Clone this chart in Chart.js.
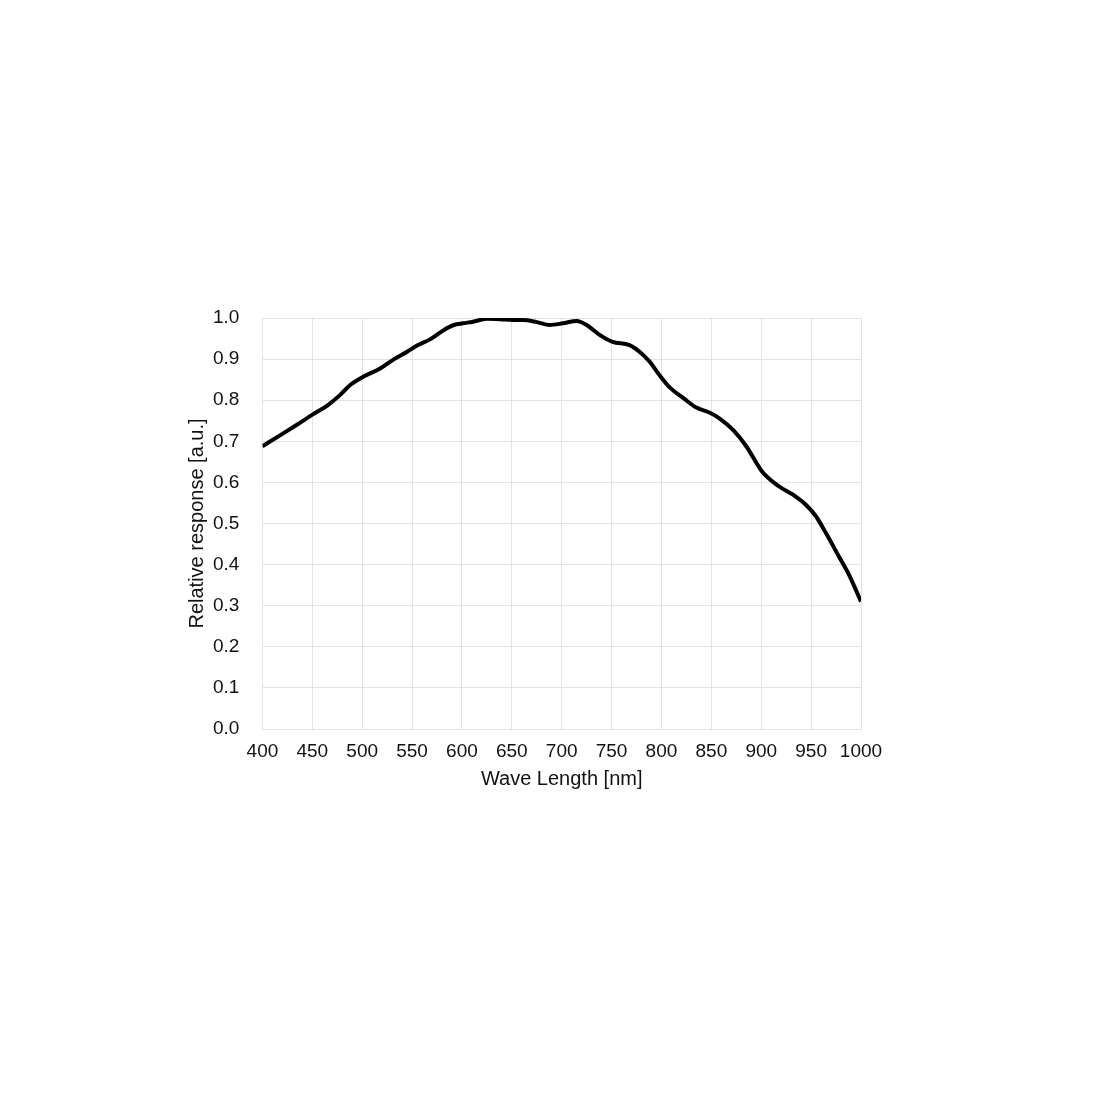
<!DOCTYPE html>
<html>
<head>
<meta charset="utf-8">
<script src="https://cdn.jsdelivr.net/npm/chart.js@4.4.0/dist/chart.umd.min.js"></script>
<style>
  html, body { margin: 0; padding: 0; background: #fff; }
  #wrap { position: relative; width: 1100px; height: 1100px; }
</style>
</head>
<body>
<div id="wrap"><canvas id="chart-resp"></canvas></div>
<script>
// ── DATA ─────────────────────────────────────
const wavelengths = [400, 418, 435, 451, 465, 478, 488, 501, 518, 532, 545, 555, 568, 582, 592, 601, 611,
  625, 638, 651, 661, 675, 688, 701, 715, 725, 738, 751, 768, 778, 788, 798, 808, 822, 835, 848,
  858, 872, 885, 901, 918, 935, 945, 955, 965, 978, 988, 1000];
const response = [0.688, 0.715, 0.741, 0.766, 0.787, 0.813, 0.837, 0.857, 0.877, 0.900, 0.918, 0.933,
  0.948, 0.971, 0.983, 0.987, 0.991, 0.998, 0.997, 0.995, 0.995, 0.990, 0.983, 0.987, 0.993, 0.983,
  0.959, 0.942, 0.934, 0.918, 0.894, 0.861, 0.832, 0.805, 0.782, 0.770, 0.756, 0.727, 0.688, 0.626,
  0.590, 0.565, 0.545, 0.517, 0.476, 0.419, 0.375, 0.310];
const xTicks = [400, 450, 500, 550, 600, 650, 700, 750, 800, 850, 900, 950, 1000];
const yTicks = [0, 0.1, 0.2, 0.3, 0.4, 0.5, 0.6, 0.7, 0.8, 0.9, 1.0];

const FONT = "'Liberation Sans', Arial, sans-serif";
const gridCol = '#e2e2e2';
const textCol = '#111';

const ctx = document.getElementById('chart-resp').getContext('2d');
new Chart(ctx, {
  type: 'line',
  data: {
    datasets: [{
      label: 'Relative response',
      data: wavelengths.map((w, i) => ({ x: w, y: response[i] })),
      borderColor: '#000',
      borderWidth: 4,
      pointRadius: 0,
      fill: false,
      cubicInterpolationMode: 'monotone',
    }]
  },
  options: {
    responsive: true, maintainAspectRatio: false, animation: false,
    layout: { padding: { left: 185, top: 318, right: 239, bottom: 309 } },
    plugins: { legend: { display: false }, tooltip: { enabled: false } },
    scales: {
      x: {
        type: 'linear', min: 400, max: 1000,
        afterBuildTicks: s => { s.ticks = xTicks.map(v => ({ value: v })); },
        ticks: { color: textCol, font: { family: FONT, size: 19, lineHeight: 1 }, padding: 13, maxRotation: 0,
                 callback: v => String(v) },
        grid: { color: gridCol, drawTicks: false },
        border: { color: gridCol },
        // negative padding pulls the title up under the tick labels
        title: { display: true, text: 'Wave Length [nm]', color: textCol, font: { family: FONT, size: 20 },
                 padding: { top: -7, bottom: 0 } }
      },
      y: {
        min: 0, max: 1,
        afterBuildTicks: s => { s.ticks = yTicks.map(v => ({ value: v })); },
        ticks: { color: textCol, font: { family: FONT, size: 19, lineHeight: 1 }, padding: 23,
                 callback: v => v.toFixed(1) },
        grid: { color: gridCol, drawTicks: false },
        border: { color: gridCol },
        title: { display: true, text: 'Relative response [a.u.]', color: textCol, font: { family: FONT, size: 20 },
                 padding: { top: 0, bottom: -19 } }
      }
    }
  }
});
</script>
</body>
</html>
